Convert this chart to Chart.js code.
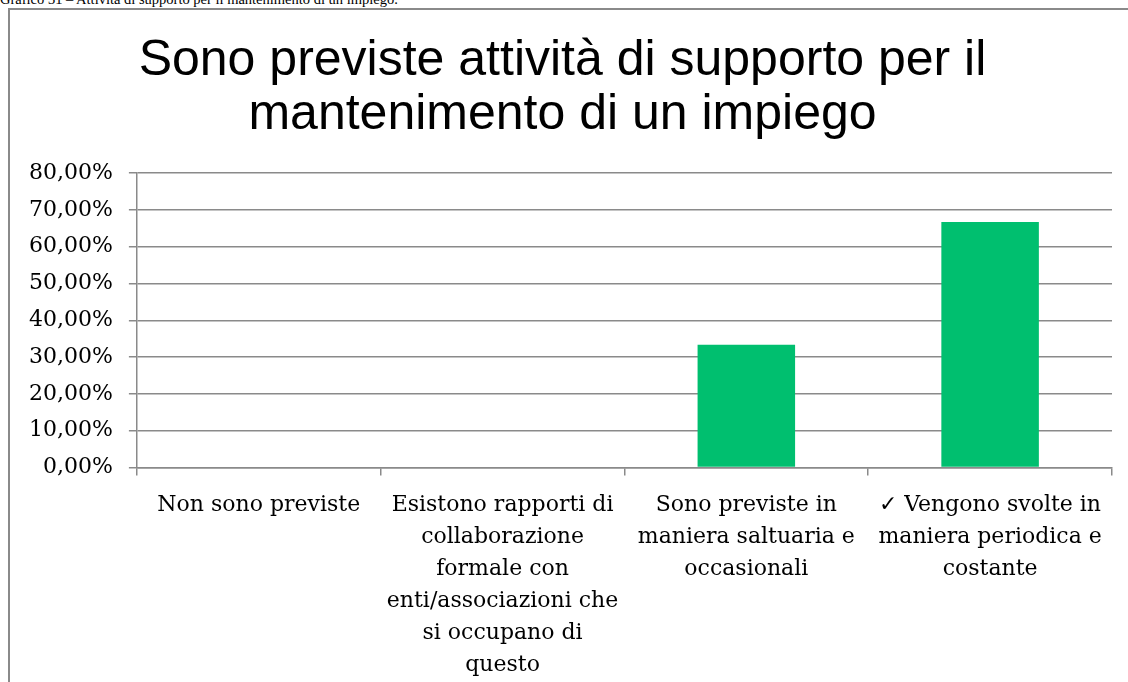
<!DOCTYPE html>
<html>
<head>
<meta charset="utf-8">
<script src="https://cdn.jsdelivr.net/npm/chart.js@4"></script>
<style>
  html, body { margin: 0; padding: 0; background: #fff; overflow: hidden; }
  body { width: 1128px; height: 682px; position: relative; }
  #caption {
    position: absolute; left: 0; top: -9px;
    font: 14.5px 'Liberation Serif', serif; color: #000; white-space: nowrap;
  }
  #frame {
    position: absolute; left: 8px; top: 8px; width: 1140px; height: 700px;
    border: 2px solid #8a8a8a; box-sizing: border-box;
  }
  #wrap { position: absolute; left: 10px; top: 10px; width: 1118px; height: 694px; }
</style>
</head>
<body>
<div id="caption">Grafico 31 – Attività di supporto per il mantenimento di un impiego.</div>
<div id="frame"></div>
<div id="wrap"><canvas id="chart"></canvas></div>
<script>
const titleLines = ['Sono previste attività di supporto per il', 'mantenimento di un impiego']

const categories = [
  ['Non sono previste'],
  ['Esistono rapporti di', 'collaborazione', 'formale con', 'enti/associazioni che', 'si occupano di', 'questo'],
  ['Sono previste in', 'maniera saltuaria e', 'occasionali'],
  ['✓ Vengono svolte in', 'maniera periodica e', 'costante']
]

const percentages = [0, 0, 33.33, 66.67]

const axisGray = '#8a8a8a'
const serif = "'DejaVu Serif', serif"

const config = {
  type: 'bar',
  data: {
    labels: categories,
    datasets: [{
      data: percentages,
      backgroundColor: '#00bf6f',
      barPercentage: 0.4,
      categoryPercentage: 1
    }]
  },
  options: {
    responsive: true,
    maintainAspectRatio: false,
    animation: false,
    layout: { padding: { left: 3, right: 16, top: 0, bottom: 9 } },
    plugins: {
      legend: { display: false },
      tooltip: { enabled: false },
      title: {
        display: true,
        text: titleLines,
        color: '#000',
        font: { family: "'Liberation Sans', Arial, sans-serif", size: 50, weight: 'normal', lineHeight: 1.08 },
        padding: { top: 24, bottom: 31 }
      }
    },
    scales: {
      x: {
        grid: { offset: true, drawOnChartArea: false, color: axisGray, lineWidth: 1.5, tickLength: 8 },
        border: { color: axisGray, width: 1.5 },
        ticks: {
          color: '#000',
          font: { family: serif, size: 22, lineHeight: 1.45 },
          maxRotation: 0,
          autoSkip: false,
          padding: 14
        }
      },
      y: {
        min: 0,
        max: 80,
        grid: { color: axisGray, lineWidth: 1.5, tickLength: 8 },
        border: { color: axisGray, width: 1.5 },
        ticks: {
          stepSize: 10,
          color: '#000',
          padding: 16,
          font: { family: serif, size: 22 },
          callback: v => v.toFixed(2).replace('.', ',') + '%'
        }
      }
    }
  }
}

new Chart(document.getElementById('chart'), config)
</script>
</body>
</html>
